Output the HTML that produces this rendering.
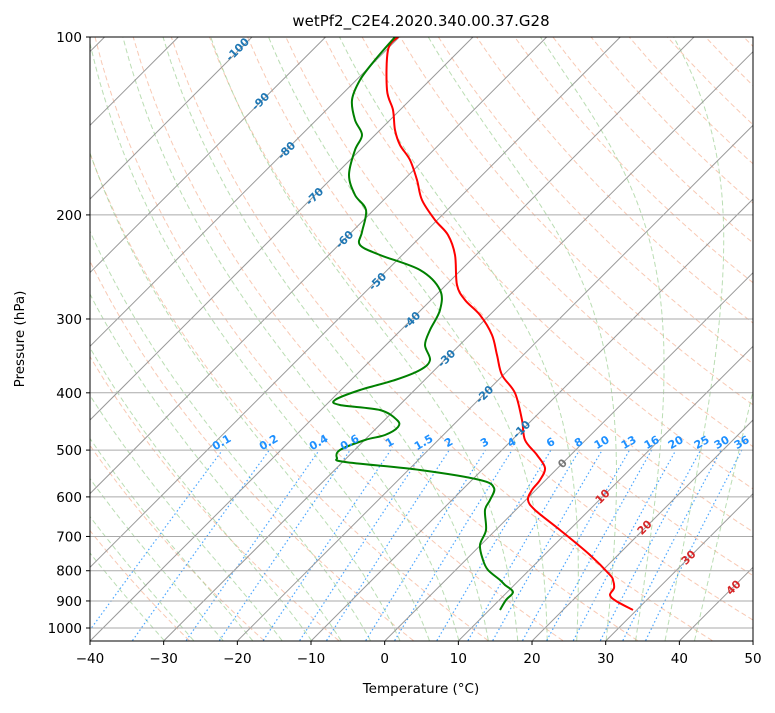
<!DOCTYPE html>
<html><head><meta charset="utf-8"><style>
body{margin:0;background:#fff;width:775px;height:708px;overflow:hidden}
svg{font-family:"DejaVu Sans","Liberation Sans",sans-serif}
</style></head><body>
<svg id="s" width="775" height="708" xmlns="http://www.w3.org/2000/svg">
<defs><clipPath id="c"><rect x="90" y="37" width="663" height="604"/></clipPath></defs>
<g id="g" clip-path="url(#c)"></g>
<rect x="90" y="37" width="663" height="604" fill="none" stroke="#000" stroke-width="1"/>
<text x="421" y="26" font-size="15" text-anchor="middle">wetPf2_C2E4.2020.340.00.37.G28</text>
<text x="421" y="693" font-size="13.5" text-anchor="middle">Temperature (°C)</text>
<text transform="translate(24,339) rotate(-90)" font-size="13.5" text-anchor="middle">Pressure (hPa)</text>
<g id="ax" font-size="13.5"></g>
</svg>
<script>
const NS="http://www.w3.org/2000/svg";
const g=document.getElementById('g'),ax=document.getElementById('ax');
function Y(p){return 37+591*Math.log10(p/100);}
function X(T,p){return 90+(T+40)*7.367+(641-Y(p));}
function el(parent,tag,a,txt){const e=document.createElementNS(NS,tag);for(const k in a)e.setAttribute(k,a[k]);if(txt!==undefined)e.textContent=txt;parent.appendChild(e);return e;}
function poly(pts,a){el(g,'polyline',Object.assign({points:pts.map(q=>q[0].toFixed(1)+','+q[1].toFixed(1)).join(' '),fill:'none'},a));}
function smooth(pts,a){let d='M'+pts[0][0]+','+pts[0][1];for(let i=0;i<pts.length-1;i++){const p0=pts[Math.max(i-1,0)],p1=pts[i],p2=pts[i+1],p3=pts[Math.min(i+2,pts.length-1)];const c1=[p1[0]+(p2[0]-p0[0])/6,p1[1]+(p2[1]-p0[1])/6],c2=[p2[0]-(p3[0]-p1[0])/6,p2[1]-(p3[1]-p1[1])/6];d+=` C${c1[0].toFixed(1)},${c1[1].toFixed(1)} ${c2[0].toFixed(1)},${c2[1].toFixed(1)} ${p2[0]},${p2[1]}`;}el(g,'path',Object.assign({d:d,fill:'none',"stroke-linejoin":'round'},a));}
const P=[];for(let p=1050;p>=100;p-=10)P.push(p);
for(let th=-30;th<=250;th+=10){const K=th+273.15;poly(P.map(p=>{const T=K*Math.pow(p/1000,0.2857)-273.15;return[X(T,p),Y(p)]}),{stroke:'#f4a582',"stroke-width":1,"stroke-dasharray":'5,3',opacity:0.6});}
function es(T){return 6.112*Math.exp(17.67*T/(T+243.5));}
for(let t0=-30;t0<=44;t0+=4){let T=t0+273.15,pts=[];for(let p=1050;p>=100;p-=5){const tc=T-273.15;const rs=0.622*es(tc)/(p-es(tc));const dTdp=(287*T+2.5e6*rs)/(1004+2.5e6*2.5e6*rs*0.622/(287*T*T))/p;pts.push([X(tc,p),Y(p)]);T-=dTdp*5;}poly(pts,{stroke:'#9ccf93',"stroke-width":1,"stroke-dasharray":'5,3',opacity:0.7});}
const W=[0.1,0.2,0.4,0.6,1,1.5,2,3,4,6,8,10,13,16,20,25,30,36];
W.forEach(w=>{let pts=[];for(let p=1050;p>=500;p-=10){const e=p*w/(622+w);const l=Math.log(e/6.112);const Td=243.5*l/(17.67-l);pts.push([X(Td,p),Y(p)]);}poly(pts,{stroke:'#1e90ff',"stroke-width":1.2,"stroke-dasharray":'1.5,2.5',opacity:0.8});});
for(let T=-160;T<=50;T+=10){poly([[X(T,1050),Y(1050)],[X(T,100),Y(100)]],{stroke:'#999',"stroke-width":1});}
[100,200,300,400,500,600,700,800,900,1000].forEach(p=>{poly([[90,Y(p)],[753,Y(p)]],{stroke:'#aaa',"stroke-width":1});el(ax,'text',{x:82,y:Y(p)+5,"text-anchor":'end'},p);el(ax,'line',{x1:86,x2:90,y1:Y(p),y2:Y(p),stroke:'#000'});});
for(let T=-40;T<=50;T+=10){const x=90+(T+40)*7.367;el(ax,'text',{x:x,y:663,"text-anchor":'middle'},T<0?'−'+(-T):T);el(ax,'line',{x1:x,x2:x,y1:641,y2:645,stroke:'#000'});}
const red=[[398,37],[388,50],[387,90],[393,110],[395,130],[400,145],[410,160],[417,180],[422,200],[435,220],[448,235],[455,255],[457,285],[465,300],[480,315],[492,335],[497,355],[502,375],[515,393],[522,420],[525,440],[537,455],[545,468],[540,480],[532,490],[528,500],[535,510],[560,530],[590,555],[610,575],[613,580],[614,588],[610,595],[616,601],[633,610]];
smooth(red,{stroke:'#f00',"stroke-width":2});
const grn=[[395,37],[375,60],[360,80],[352,100],[355,120],[362,135],[355,150],[349,175],[355,195],[366,210],[362,232],[360,245],[380,255],[420,270],[440,290],[440,310],[430,330],[425,345],[430,360],[420,370],[395,380],[360,390],[335,400],[340,405],[380,410],[397,420],[398,427],[385,435],[365,440],[340,450],[337,458],[345,462],[420,470],[480,480],[494,488],[490,500],[485,510],[486,530],[480,545],[483,560],[488,570],[500,580],[505,585],[513,592],[506,600],[500,610]];
smooth(grn,{stroke:'#008000',"stroke-width":2});
const L=[[-100,238,50,'#1f77b4'],[-90,261,102,'#1f77b4'],[-80,287,151,'#1f77b4'],[-70,315,197,'#1f77b4'],[-60,345,240,'#1f77b4'],[-50,378,282,'#1f77b4'],[-40,412,321,'#1f77b4'],[-30,447,359,'#1f77b4'],[-20,485,395,'#1f77b4'],[-10,522,430,'#1f77b4'],[0,563,464,'#777'],[10,603,497,'#d62728'],[20,645,528,'#d62728'],[30,689,558,'#d62728'],[40,734,588,'#d62728']];
L.forEach(l=>el(g,'text',{transform:`translate(${l[1]},${l[2]}) rotate(-45)`,"text-anchor":'middle',"dominant-baseline":'middle',"font-size":11,"font-weight":'bold',fill:l[3]},l[0]));
const MX=[222,269,319,350,390,424,449,485,512,551,579,602,629,652,676,702,722,742];
W.forEach((w,i)=>el(g,'text',{transform:`translate(${MX[i]},443) rotate(-30)`,"text-anchor":'middle',"dominant-baseline":'middle',"font-size":11,"font-weight":'bold',fill:'#1e90ff'},w));
</script>
</body></html>
